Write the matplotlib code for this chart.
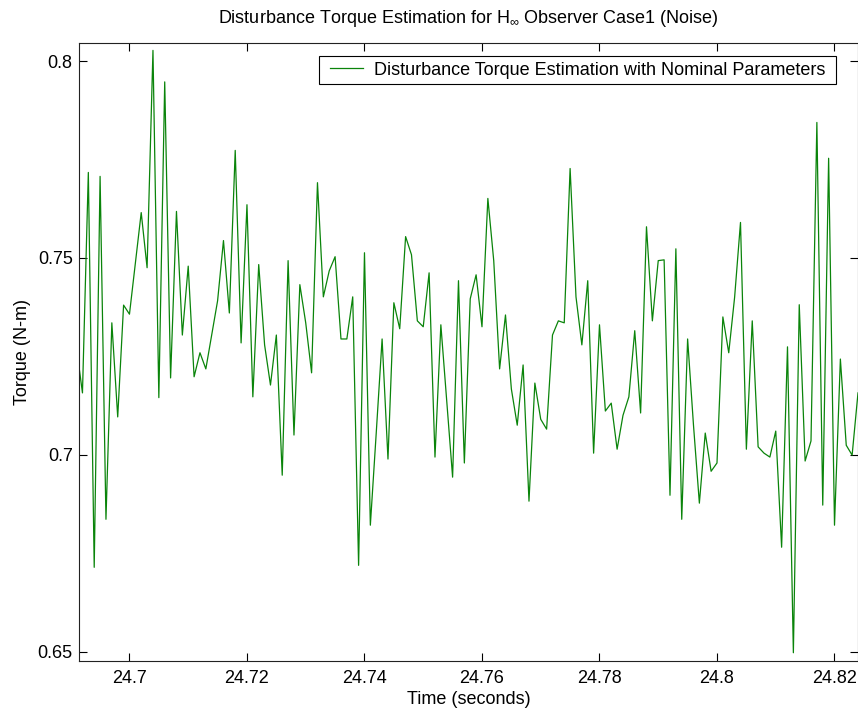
import numpy as np
import matplotlib

matplotlib.use("Agg")
import matplotlib.pyplot as plt
from matplotlib.legend_handler import HandlerLine2D
from matplotlib.ticker import FixedLocator, FixedFormatter

plt.rcParams["font.family"] = ["Liberation Sans", "DejaVu Sans"]
plt.rcParams["mathtext.fontset"] = "custom"
plt.rcParams["mathtext.rm"] = "Liberation Sans"

# Sampled torque estimate, one sample per ms starting at t = 24.691 s
t_start = 24.691
dt = 0.001
torque = [
    0.7270,
    # 24.692 - 24.710
    0.7157, 0.7717, 0.6714, 0.7707, 0.6836, 0.7335, 0.7096, 0.7380, 0.7357, 0.7486,
    0.7615, 0.7475, 0.8027, 0.7145, 0.7947, 0.7195, 0.7618, 0.7304, 0.7479,
    # 24.711 - 24.733
    0.7198, 0.7259, 0.7218, 0.7304, 0.7391, 0.7544, 0.7360, 0.7773, 0.7284, 0.7635,
    0.7147, 0.7483, 0.7279, 0.7177, 0.7304, 0.6948, 0.7493, 0.7050, 0.7432, 0.7335,
    0.7208, 0.7691, 0.7401,
    # 24.734 - 24.756
    0.7467, 0.7503, 0.7294, 0.7294, 0.7401, 0.6719, 0.7513, 0.6821, 0.7055, 0.7294,
    0.6989, 0.7386, 0.7320, 0.7554, 0.7508, 0.7340, 0.7325, 0.7462, 0.6994, 0.7330,
    0.7136, 0.6943, 0.7442,
    # 24.757 - 24.779
    0.6979, 0.7396, 0.7457, 0.7325, 0.7651, 0.7493, 0.7218, 0.7355, 0.7167, 0.7075,
    0.7228, 0.6882, 0.7182, 0.7090, 0.7065, 0.7304, 0.7340, 0.7335, 0.7727, 0.7401,
    0.7279, 0.7442, 0.7004,
    # 24.780 - 24.802
    0.7330, 0.7111, 0.7131, 0.7014, 0.7100, 0.7147, 0.7315, 0.7106, 0.7579, 0.7340,
    0.7493, 0.7495, 0.6897, 0.7523, 0.6836, 0.7294, 0.7075, 0.6877, 0.7055, 0.6958,
    0.6979, 0.7350, 0.7259,
    # 24.803 - 24.824
    0.7400, 0.7590, 0.7014, 0.7340, 0.7020, 0.7004, 0.6994, 0.7060, 0.6765, 0.7274,
    0.6497, 0.7381, 0.6984, 0.7035, 0.7844, 0.6872, 0.7753, 0.6821, 0.7243, 0.7024,
    0.6999, 0.7157,
]
time = t_start + dt * np.arange(len(torque))

x_ticks = [24.70, 24.72, 24.74, 24.76, 24.78, 24.80, 24.82]
x_tick_labels = ["24.7", "24.72", "24.74", "24.76", "24.78", "24.8", "24.82"]
y_ticks = [0.65, 0.70, 0.75, 0.80]
y_tick_labels = ["0.65", "0.7", "0.75", "0.8"]

FS = 13

fig = plt.figure(figsize=(8.58, 7.10), dpi=100)
fig.patch.set_facecolor("white")
ax = fig.add_axes([0.092, 0.069, 0.908, 0.870])

line, = ax.plot(time, torque, color="#0a840a", linewidth=0.9,
                label="Disturbance Torque Estimation with Nominal Parameters ")

ax.set_xlim(24.6914, 24.8240)
ax.set_ylim(0.6476, 0.8045)

ax.xaxis.set_major_locator(FixedLocator(x_ticks))
ax.xaxis.set_major_formatter(FixedFormatter(x_tick_labels))
ax.yaxis.set_major_locator(FixedLocator(y_ticks))
ax.yaxis.set_major_formatter(FixedFormatter(y_tick_labels))
ax.tick_params(direction="in", length=6, width=0.8, labelsize=FS,
               top=True, right=True)
ax.tick_params(axis="x", pad=6.5)
ax.tick_params(axis="y", pad=4.5)
for sp in ax.spines.values():
    sp.set_linewidth(0.8)
    sp.set_color("#222222")

ax.set_xlabel("Time (seconds)", fontsize=FS, labelpad=3)
ax.set_ylabel("Torque (N-m)", fontsize=FS, labelpad=5)
ax.set_title(r"Disturbance Torque Estimation for H$_{\infty}$ Observer Case1 (Noise)",
             fontsize=FS, pad=14.5)

leg = ax.legend(loc="upper right", bbox_to_anchor=(0.9717, 0.979), borderaxespad=0,
                fontsize=FS, fancybox=False, edgecolor="black", framealpha=1,
                handlelength=2.13, handletextpad=0.6, borderpad=0.3,
                handler_map={line: HandlerLine2D(xpad=0.3)})
leg.get_frame().set_linewidth(0.8)

fig.savefig("out.png", dpi=100)
